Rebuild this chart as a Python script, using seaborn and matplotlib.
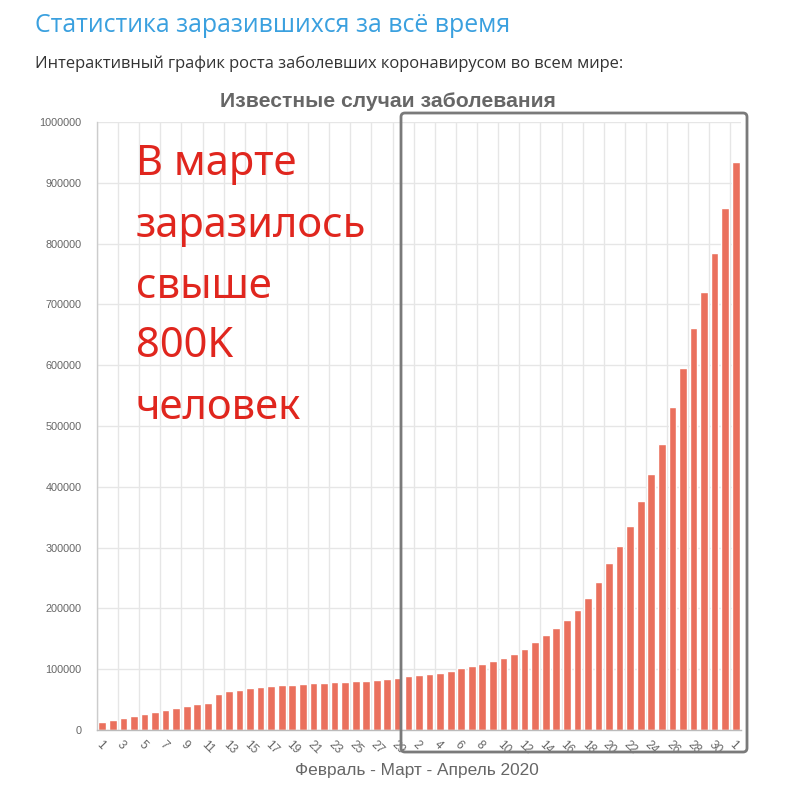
import numpy as np
import pandas as pd
import matplotlib
matplotlib.use("Agg")
import matplotlib.pyplot as plt
import seaborn as sns
from matplotlib.patches import FancyBboxPatch

# ---- data ----
feb_days = [1, 2, 3, 4, 5, 6, 7, 8, 9, 10, 11, 12, 13, 14, 15, 16, 17, 18, 19, 20,
            21, 22, 23, 24, 25, 26, 27, 28, 29]
mar_days = [1, 2, 3, 4, 5, 6, 7, 8, 9, 10, 11, 12, 13, 14, 15, 16, 17, 18, 19, 20,
            21, 22, 23, 24, 25, 26, 27, 28, 29, 30, 31]
apr_days = [1]

cases_feb = [13700, 16500, 19800, 23700, 26900, 30200, 33500, 36800, 39600, 42300,
             44500, 58500, 63700, 66400, 68600, 70700, 72400, 74000, 74600, 75600,
             76700, 77800, 78400, 79000, 80100, 81200, 82700, 83900, 85600]
cases_mar = [88000, 89700, 92300, 94500, 97800, 101600, 105500, 109300, 113700, 118000,
             125100, 133300, 144300, 155700, 168300, 181400, 197300, 216900, 243700, 274300,
             303300, 336000, 377000, 421000, 470000, 531000, 596000, 662000, 721000, 784000,
             858000]
cases_apr = [934000]

day_labels = [str(d) for d in feb_days + mar_days + apr_days]
cases = cases_feb + cases_mar + cases_apr

df = pd.DataFrame({"idx": np.arange(len(cases)), "cases": cases})

# ---- figure ----
W, H = 785, 800
fig = plt.figure(figsize=(W / 100, H / 100), dpi=100)
sns.set_style("white")
plt.rcParams["font.family"] = ["Liberation Sans", "DejaVu Sans"]

ax = fig.add_axes([97 / W, 1 - 730 / H, (741 - 97) / W, (730 - 122) / H])

bar_color = "#EA705D"
sns.barplot(data=df, x="idx", y="cases", ax=ax, color=bar_color,
            saturation=1, width=0.73, order=list(df["idx"]))

n = len(cases)
ax.set_xlim(-0.5, n - 0.5)
ax.set_ylim(0, 1000000)

yt = list(range(0, 1000001, 100000))
ax.set_yticks(yt)
ax.set_yticklabels([str(v) for v in yt], fontsize=7.8, color="#666666")

ax.set_xticks(np.arange(0, n, 2))
ax.set_xticklabels(day_labels[::2], rotation=-45, ha="left", va="top",
                   rotation_mode="anchor", fontsize=8.6, color="#666666")
ax.set_xticks(np.arange(-0.5, n, 2), minor=True)

ax.tick_params(axis="x", which="major", length=0, pad=6)
ax.tick_params(axis="x", which="minor", length=6, color="#dddddd", width=1)
ax.tick_params(axis="y", which="major", length=8, color="#e0e0e0", width=1, pad=3)

ax.grid(False)
ax.yaxis.grid(True, color="#e6e6e6", linewidth=1)
ax.xaxis.grid(True, which="minor", color="#e6e6e6", linewidth=1)
ax.set_axisbelow(True)

for s in ["top", "right"]:
    ax.spines[s].set_visible(False)
ax.spines["left"].set_color("#cccccc")
ax.spines["bottom"].set_color("#bbbbbb")
ax.spines["left"].set_linewidth(1)
ax.spines["bottom"].set_linewidth(1)

ax.set_xlabel("")
ax.set_ylabel("")

# ---- texts ----
fig.text(35 / W, 1 - 32 / H, "Статистика заразившихся за всё время",
         fontsize=17.9, color="#3aa0df", family=["Open Sans", "DejaVu Sans"],
         va="baseline", ha="left")
fig.text(35 / W, 1 - 68 / H, "Интерактивный график роста заболевших коронавирусом во всем мире:",
         fontsize=11.9, color="#333333", family=["Open Sans", "DejaVu Sans"],
         va="baseline", ha="left")
fig.text(388 / W, 1 - 107 / H, "Известные случаи заболевания",
         fontsize=15.2, color="#666666", fontweight="bold",
         va="baseline", ha="center")
fig.text(417 / W, 1 - 775 / H, "Февраль - Март - Апрель 2020",
         fontsize=12.4, color="#666666", va="baseline", ha="center")

note_lines = ["В марте", "заразилось", "свыше", "800K", "человек"]
baselines = [175, 237, 298, 357, 419]
for line, b in zip(note_lines, baselines):
    fig.text(136 / W, 1 - b / H, line, fontsize=30, color="#e0261e",
             family=["Noto Sans", "DejaVu Sans"], va="baseline", ha="left")

# ---- highlight box ----
box = FancyBboxPatch((401 / W, 1 - 752 / H), (747 - 401) / W, (752 - 113) / H,
                     boxstyle="round,pad=0,rounding_size=0.005",
                     transform=fig.transFigure, fill=False,
                     edgecolor="#7a7a7a", linewidth=2, zorder=10)
fig.patches.append(box)

fig.savefig("out.png", dpi=100, facecolor="white")
